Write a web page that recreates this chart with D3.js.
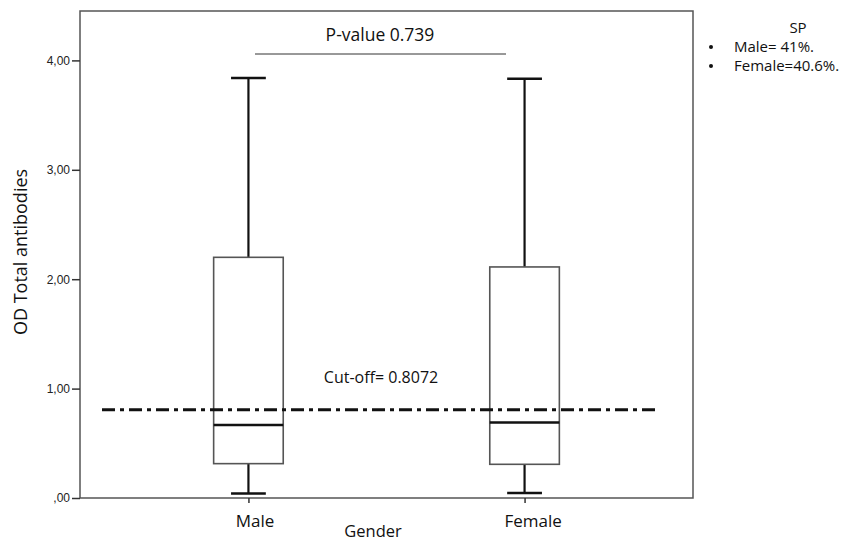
<!DOCTYPE html>
<html>
<head>
<meta charset="utf-8">
<script src="https://cdn.jsdelivr.net/npm/d3@7"></script>
<style>
  html, body { margin: 0; padding: 0; background: #fff; }
  svg { display: block; }
</style>
</head>
<body>
<svg id="chart" width="843" height="543"></svg>
<script>
// ---- data ----
const categories = ["Male", "Female"];
const whiskerLow = [0.04, 0.046];
const q1Values = [0.314, 0.308];
const medianValues = [0.667, 0.689];
const q3Values = [2.20, 2.112];
const whiskerHigh = [3.84, 3.833];
const yTicks = [0, 1, 2, 3, 4];
const cutOff = 0.8072;
const pValueText = "P-value 0.739";
const cutOffText = "Cut-off= 0.8072";
const legendTitle = "SP";
const legendItems = ["Male= 41%.", "Female=40.6%."];

const boxes = categories.map((c, i) => ({
  cat: c, lo: whiskerLow[i], q1: q1Values[i], med: medianValues[i], q3: q3Values[i], hi: whiskerHigh[i]
}));

// ---- layout ----
const svg = d3.select("#chart");
const L = 80, R = 693, T = 11, B = 498;
const textFont = "'Open Sans', sans-serif";

const x = d3.scalePoint().domain(categories).range([L, R]).padding(0.61);
const y = d3.scaleLinear().domain([0, (B - T) / 109.4]).range([B, T]);
const boxW = x.step() * 0.252;
const capW = boxW / 2;

// frame
svg.append("rect")
  .attr("x", L).attr("y", T).attr("width", R - L).attr("height", B - T)
  .attr("fill", "none").attr("stroke", "#555").attr("stroke-width", 1.5);

// y axis
const fmt = v => { let s = d3.format(".2f")(v).replace(".", ","); return s.startsWith("0,") ? s.slice(1) : s; };
const yAxis = svg.append("g").attr("transform", `translate(${L},0)`)
  .call(d3.axisLeft(y).tickValues(yTicks).tickFormat(fmt).tickSize(8).tickPadding(2));
yAxis.select(".domain").remove();
yAxis.selectAll(".tick line").attr("stroke", "#333").attr("stroke-width", 1.5);
yAxis.selectAll(".tick text")
  .attr("font-family", "'Liberation Sans', Arial, sans-serif").attr("font-size", 12).attr("fill", "#222");

// x axis
const xAxis = svg.append("g").attr("transform", `translate(0,${B})`)
  .call(d3.axisBottom(x).tickSize(5).tickPadding(12));
xAxis.select(".domain").remove();
xAxis.selectAll(".tick line").attr("stroke", "#333").attr("stroke-width", 1.5);
xAxis.selectAll(".tick text")
  .attr("font-family", textFont).attr("font-size", 17).attr("fill", "#111")
  .attr("dx", (d, i) => i === 0 ? 6 : 8);

// axis titles
svg.append("text").attr("x", 373).attr("y", 537).attr("text-anchor", "middle")
  .attr("font-family", textFont).attr("font-size", 16.5).attr("fill", "#111").text("Gender");
svg.append("text").attr("transform", `translate(27,252) rotate(-90)`).attr("text-anchor", "middle")
  .attr("font-family", textFont).attr("font-size", 18).attr("fill", "#111").text("OD Total antibodies");

// boxes
const g = svg.append("g");
const bx = g.selectAll("g.box").data(boxes).join("g").attr("class", "box");
// whiskers
bx.append("line").attr("x1", d => x(d.cat)).attr("x2", d => x(d.cat))
  .attr("y1", d => y(d.q3)).attr("y2", d => y(d.hi)).attr("stroke", "#111").attr("stroke-width", 2.2);
bx.append("line").attr("x1", d => x(d.cat)).attr("x2", d => x(d.cat))
  .attr("y1", d => y(d.q1)).attr("y2", d => y(d.lo)).attr("stroke", "#111").attr("stroke-width", 2.2);
// caps
bx.append("line").attr("x1", d => x(d.cat) - capW / 2).attr("x2", d => x(d.cat) + capW / 2)
  .attr("y1", d => y(d.hi)).attr("y2", d => y(d.hi)).attr("stroke", "#111").attr("stroke-width", 2.5);
bx.append("line").attr("x1", d => x(d.cat) - capW / 2).attr("x2", d => x(d.cat) + capW / 2)
  .attr("y1", d => y(d.lo)).attr("y2", d => y(d.lo)).attr("stroke", "#111").attr("stroke-width", 2.5);
// box
bx.append("rect").attr("x", d => x(d.cat) - boxW / 2).attr("width", boxW)
  .attr("y", d => y(d.q3)).attr("height", d => y(d.q1) - y(d.q3))
  .attr("fill", "#fff").attr("stroke", "#555").attr("stroke-width", 1.6);

// cut-off line
svg.append("line").attr("x1", 102).attr("x2", 655)
  .attr("y1", y(cutOff)).attr("y2", y(cutOff))
  .attr("stroke", "#111").attr("stroke-width", 3).attr("stroke-dasharray", "13,5,4,5");

// median (drawn above cutoff line)
bx.append("line").attr("x1", d => x(d.cat) - boxW / 2).attr("x2", d => x(d.cat) + boxW / 2)
  .attr("y1", d => y(d.med)).attr("y2", d => y(d.med)).attr("stroke", "#111").attr("stroke-width", 2.5);

svg.append("text").attr("x", 381).attr("y", 383).attr("text-anchor", "middle")
  .attr("font-family", textFont).attr("font-size", 16).attr("fill", "#111").text(cutOffText);

// p-value
svg.append("line").attr("x1", 255).attr("x2", 506).attr("y1", 54).attr("y2", 54)
  .attr("stroke", "#333").attr("stroke-width", 1);
svg.append("text").attr("x", 380).attr("y", 41).attr("text-anchor", "middle")
  .attr("font-family", textFont).attr("font-size", 17.5).attr("fill", "#111").text(pValueText);

// legend text
svg.append("text").attr("x", 798).attr("y", 33).attr("text-anchor", "middle")
  .attr("font-family", textFont).attr("font-size", 15).attr("fill", "#111").text(legendTitle);
legendItems.forEach((t, i) => {
  svg.append("circle").attr("cx", 711).attr("cy", 47 + i * 19).attr("r", 2).attr("fill", "#111");
  svg.append("text").attr("x", 734).attr("y", 52 + i * 19)
    .attr("font-family", textFont).attr("font-size", 15).attr("fill", "#111").text(t);
});
</script>
</body>
</html>
